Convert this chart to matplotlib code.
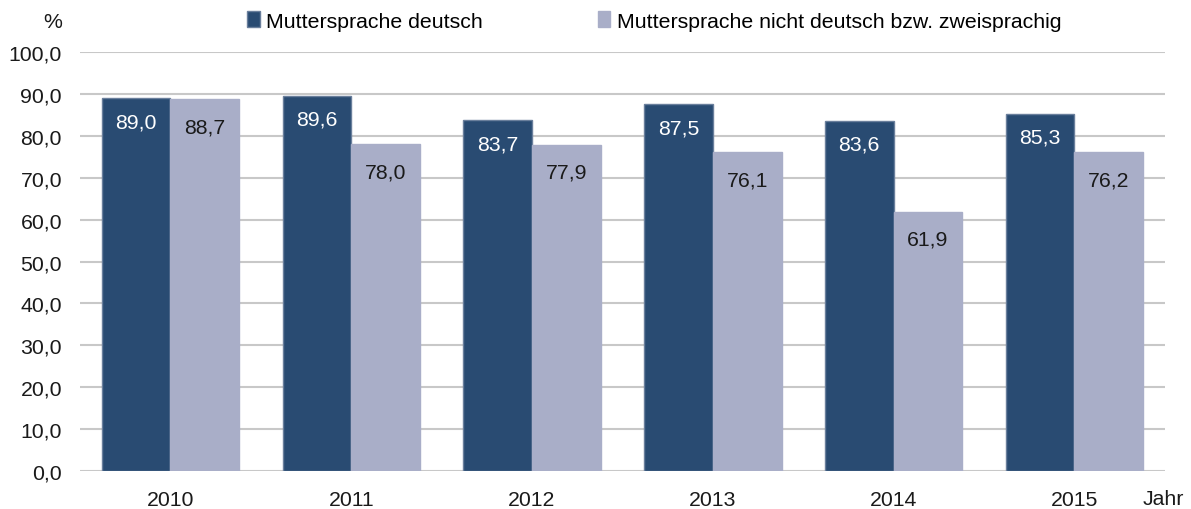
import matplotlib.pyplot as plt
import numpy as np

years = ['2010', '2011', '2012', '2013', '2014', '2015']
deutsch = [89.0, 89.6, 83.7, 87.5, 83.6, 85.3]
nicht_deutsch = [88.7, 78.0, 77.9, 76.1, 61.9, 76.2]
series_names = ['Muttersprache deutsch', 'Muttersprache nicht deutsch bzw. zweisprachig']

plt.rcParams['font.family'] = ['Liberation Sans', 'DejaVu Sans']

dark = '#294b72'
light = '#a9aec8'
fs = 15.3

fig = plt.figure(figsize=(11.91, 5.10), dpi=100)
ax = fig.add_axes([0.0672, 0.0745, 0.9108, 0.8215])

x = np.arange(len(years))
w = 0.38
b1 = ax.bar(x - w / 2, deutsch, w, color=dark, edgecolor='#6a7f9c', linewidth=1, zorder=3)
b2 = ax.bar(x + w / 2, nicht_deutsch, w, color=light, edgecolor=light, linewidth=1, zorder=3)

def fmt(v):
    return f'{v:.1f}'.replace('.', ',')

# value labels inside the bars, a bit below the top
for bars, vals, col, off in [(b1, deutsch, 'white', -17), (b2, nicht_deutsch, '#1a1a1a', -20)]:
    for r, v in zip(bars, vals):
        ax.annotate(fmt(v), (r.get_x() + r.get_width() / 2, v), xytext=(0, off),
                    textcoords='offset points', ha='center', va='center',
                    fontsize=fs, color=col, zorder=4)

ax.set_xlim(-0.5, len(years) - 0.5)
ax.set_ylim(0, 100)
ax.set_yticks(np.arange(0, 101, 10))
ax.set_yticklabels([fmt(v) for v in np.arange(0, 101, 10)], fontsize=fs, color='#1a1a1a')
ax.set_xticks(x)
ax.set_xticklabels(years, fontsize=fs, color='#1a1a1a')
ax.tick_params(axis='both', length=0)
ax.tick_params(axis='y', pad=13)
ax.tick_params(axis='x', pad=14)
ax.yaxis.grid(True, color='#c8c8c8', linewidth=1.5, zorder=0)
for s in ax.spines.values():
    s.set_visible(False)

fig.text(62 / 1191, 1 - 22 / 510, '%', ha='right', va='center', fontsize=fs, color='#1a1a1a')
fig.text(1184 / 1191, 1 - 500 / 510, 'Jahr', ha='right', va='center', fontsize=fs, color='#1a1a1a')

leg = fig.legend([b1, b2], series_names, loc='center', bbox_to_anchor=(654 / 1191, 1 - 22 / 510),
                 ncol=2, frameon=False, fontsize=fs, handlelength=0.6, handleheight=0.75,
                 handletextpad=0.3, columnspacing=5.4)

fig.savefig('out.png', dpi=100)
